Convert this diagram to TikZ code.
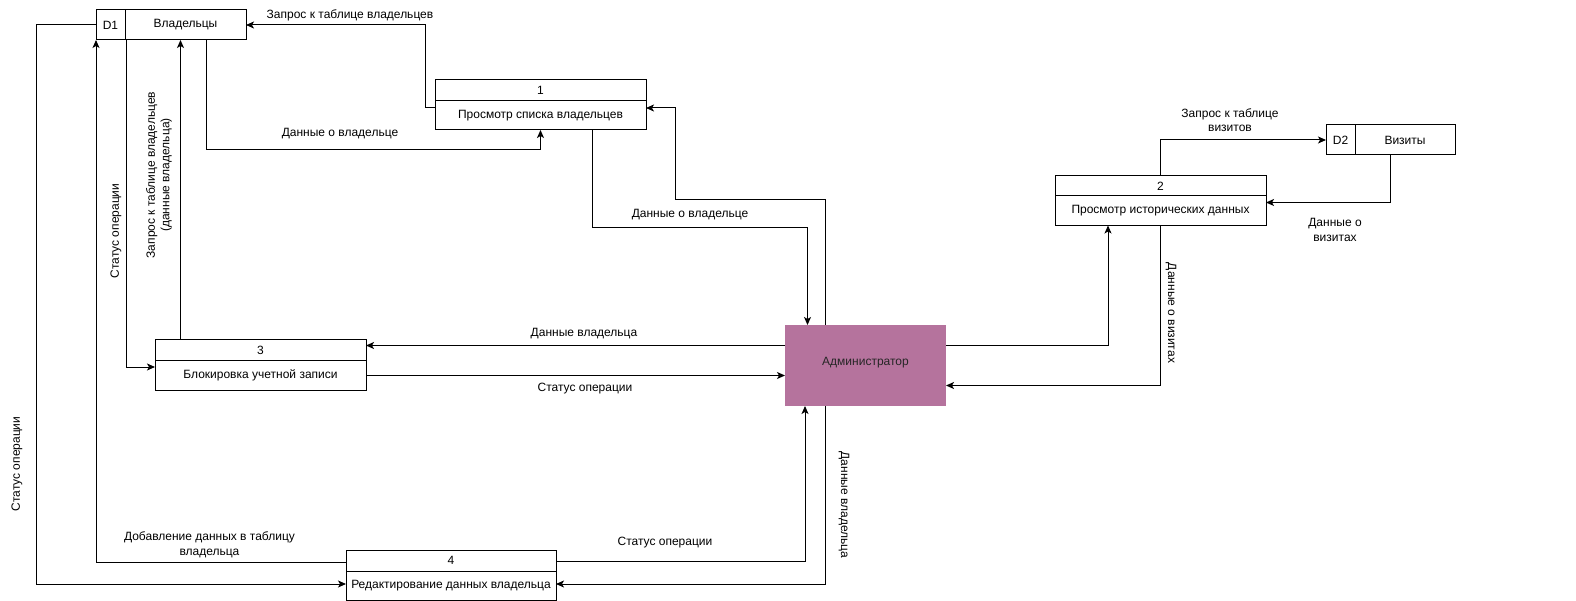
\documentclass[tikz,border=0pt]{standalone}
\usepackage{fontspec}
\setmainfont{Liberation Sans}
\usetikzlibrary{arrows.meta}
\definecolor{actorfill}{HTML}{B5739D}
\begin{document}
\begin{tikzpicture}[x=1pt,y=-1pt,
  every node/.style={font=\fontsize{12}{14.5}\selectfont, inner sep=0pt, outer sep=0pt},
  box/.style={draw, line width=1pt, fill=white, rectangle},
  actor/.style={fill=actorfill, rectangle, minimum width=161pt, minimum height=81pt},
  divider/.style={line width=1pt},
  flow/.style={line width=1pt, -{Stealth[length=8pt,width=7pt,inset=2pt]}},
  lbl/.style={align=center},
]
\useasboundingbox (0,0) rectangle (1576,601);

% data store D1
\node[box, minimum width=150pt, minimum height=30pt] (d1) at (171,25) {};
\draw[divider] ([xshift=29pt]d1.north west) -- ([xshift=29pt]d1.south west);
\node (d1id) at (110.5,25) {D1};
\node (d1name) at (185.5,25) {Владельцы};

% data store D2
\node[box, minimum width=129pt, minimum height=30pt] (d2) at (1390.5,140) {};
\draw[divider] ([xshift=29pt]d2.north west) -- ([xshift=29pt]d2.south west);
\node (d2id) at (1340.5,140) {D2};
\node (d2name) at (1405,140) {Визиты};

% process 1
\node[box, minimum width=211pt, minimum height=50pt] (p1) at (540.5,105) {};
\draw[divider] ([yshift=-21pt]p1.north west) -- ([yshift=-21pt]p1.north east);
\node (p1num) at (540.5,90.5) {1};
\node (p1name) at (540.5,115.5) {Просмотр списка владельцев};

% process 2
\node[box, minimum width=211pt, minimum height=50pt] (p2) at (1160.5,200.5) {};
\draw[divider] ([yshift=-20.5pt]p2.north west) -- ([yshift=-20.5pt]p2.north east);
\node (p2num) at (1160.5,186) {2};
\node (p2name) at (1160.5,211) {Просмотр исторических данных};

% process 3
\node[box, minimum width=211pt, minimum height=50pt] (p3) at (260.5,365) {};
\draw[divider] ([yshift=-20.5pt]p3.north west) -- ([yshift=-20.5pt]p3.north east);
\node (p3num) at (260.5,350) {3};
\node (p3name) at (260.5,375.5) {Блокировка учетной записи};

% process 4
\node[box, minimum width=210pt, minimum height=50pt] (p4) at (451,575) {};
\draw[divider] ([yshift=-21pt]p4.north west) -- ([yshift=-21pt]p4.north east);
\node (p4num) at (451,560.5) {4};
\node (p4name) at (451,585.5) {Редактирование данных владельца};

% external entity
\node[actor] (admin) at (865.5,365.5) {};
\node[text=black!85] (adminname) at (865.5,363) {Администратор};

% flows around D1 and process 1
\draw[flow] ([yshift=-3pt]p1.west) -- ++(-10,0) |- (d1.east);
\node (l1) at (350,15) {Запрос к таблице владельцев};

\draw[flow] ([xshift=35pt]d1.south) -- ++(0,110) -| (p1.south);
\node (l2) at (340,134) {Данные о владельце};

\draw[flow] ([xshift=52pt]p1.south) -- ++(0,98) -| ([xshift=-58pt]admin.north);
\node (l3) at (690,215) {Данные о владельце};

\draw[flow] ([xshift=-40pt]admin.north) -- ++(0,-125) -- ++(-150,0) |- ([yshift=-3pt]p1.east);

% flows between the administrator and process 3
\draw[flow] ([yshift=20pt]admin.west) -- ([yshift=19.5pt]p3.east);
\node (l4) at (584,333.5) {Данные владельца};

\draw[flow] ([yshift=-10.5pt]p3.east) -- ([yshift=-10pt]admin.west);
\node (l5) at (585,389) {Статус операции};

% flows between D1 and process 3
\draw[flow] ([xshift=30.5pt]d1.south west) |- ([yshift=-2pt]p3.west);
\node[rotate=90] (l6) at (116,231) {Статус операции};

\draw[flow] ([xshift=-80pt]p3.north) -- ([xshift=-80pt]p3.north |- d1.south);
\node[rotate=90, lbl] (l7) at (159,175) {Запрос к таблице владельцев\\(данные владельца)};

% flows around process 2 and D2
\draw[flow] ([yshift=20pt]admin.east) -| ([xshift=-52.5pt]p2.south);

\draw[flow] (p2.south) |- ([yshift=-20pt]admin.east);
\node[rotate=-90] (l8) at (1171,313) {Данные о визитах};

\draw[flow] (p2.north) |- (d2.west);
\node[lbl] (l9) at (1230,120) {Запрос к таблице\\визитов};

\draw[flow] (d2.south) |- ([yshift=-2pt]p2.east);
\node[lbl] (l10) at (1335,230) {Данные о\\визитах};

% flows around process 4
\draw[flow] ([yshift=14pt]p4.east) -| ([xshift=-60.5pt]admin.south);
\node (l11) at (665,543) {Статус операции};

\draw[flow] ([xshift=-40pt]admin.south) |- ([yshift=-9pt]p4.east);
\node[rotate=-90] (l12) at (844,505) {Данные владельца};

\draw[flow] ([yshift=12.5pt]p4.west) -| (d1.south west);
\node[lbl] (l13) at (209.5,545) {Добавление данных в таблицу\\владельца};

\draw[flow] (d1.west) -- ++(-60,0) |- ([yshift=-9pt]p4.west);
\node[rotate=90] (l14) at (17,464) {Статус операции};

\end{tikzpicture}
\end{document}
